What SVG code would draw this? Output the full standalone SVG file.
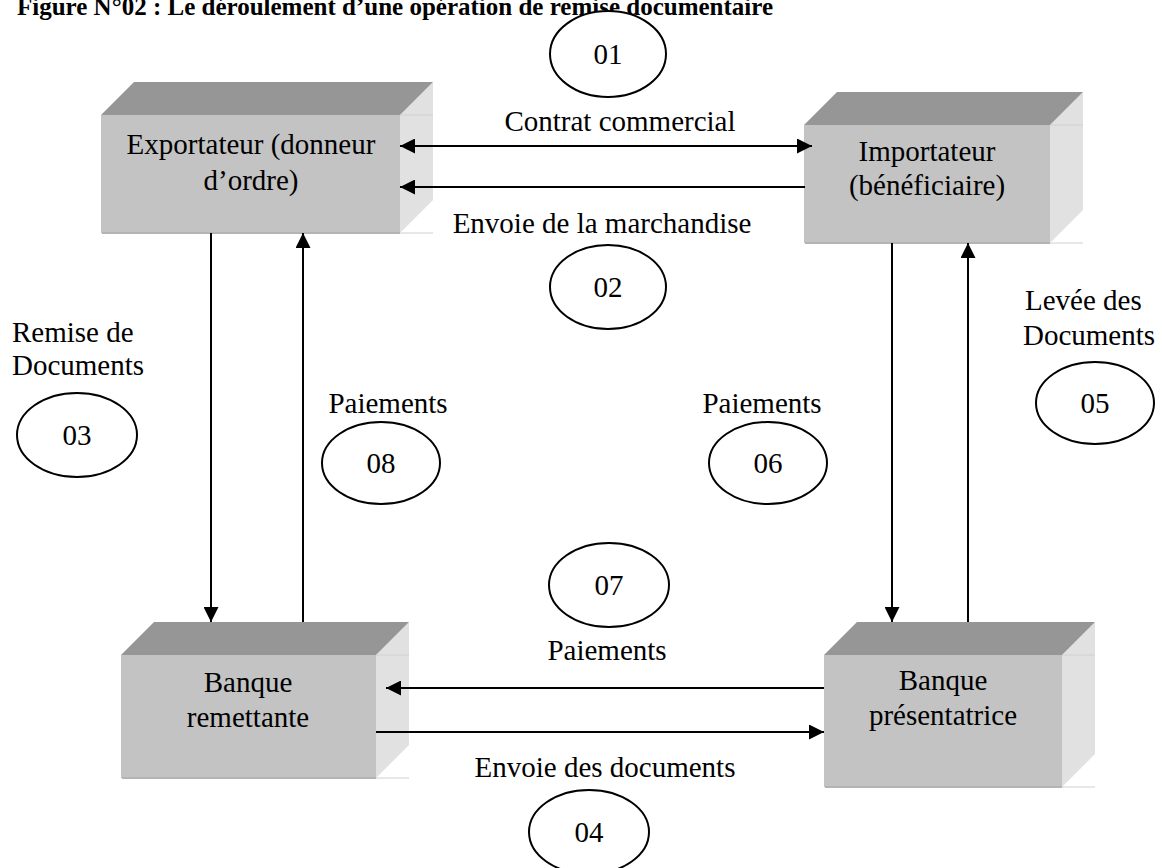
<svg xmlns="http://www.w3.org/2000/svg" width="1162" height="868" viewBox="0 0 1162 868">
<style>
.t{font-family:"Liberation Serif","Times New Roman",serif;font-size:29px;fill:#000}
.m{text-anchor:middle}
.title{font-family:"Liberation Serif","Times New Roman",serif;font-size:25px;font-weight:bold;fill:#000}
.front{fill:#c3c3c3}
.top{fill:#969696}
.side{fill:#e1e1e1}
.edge{stroke:#b4b4b4;stroke-width:2;fill:none}
.faint{stroke:#d0d0d0;stroke-width:1;fill:none}
.ell{fill:#fff;stroke:#000;stroke-width:2}
.arr{stroke:#000;stroke-width:2;fill:none}
</style>
<defs>
<marker id="ah" viewBox="0 0 15 15" refX="15" refY="7.5" markerWidth="15" markerHeight="15" markerUnits="userSpaceOnUse" orient="auto-start-reverse">
<path d="M0,0 L15,7.5 L0,15 z" fill="#000"/>
</marker>
</defs>
<rect width="1162" height="868" fill="#fff"/>
<text class="title" x="17" y="15">Figure N°02 : Le déroulement d’une opération de remise documentaire</text>

<g id="exportateur">
<polygon class="side" points="400,115 433,82 433,200 400,233"/>
<polygon class="top" points="101,115 134,82 433,82 400,115"/>
<rect class="front" x="101" y="115" width="299" height="118"/>
<line class="faint" x1="400" y1="115" x2="433" y2="115"/>
<line class="faint" x1="400" y1="233" x2="433" y2="233"/>
<line class="edge" x1="102" y1="233" x2="400" y2="233"/>
<text class="t m" x="251" y="154">Exportateur (donneur</text>
<text class="t m" x="251" y="190">d’ordre)</text>
</g>

<g id="importateur">
<polygon class="side" points="1050,125 1083,92 1083,210 1050,243"/>
<polygon class="top" points="804,125 837,92 1083,92 1050,125"/>
<rect class="front" x="804" y="125" width="246" height="118"/>
<line class="faint" x1="1050" y1="125" x2="1083" y2="125"/>
<line class="faint" x1="1050" y1="243" x2="1083" y2="243"/>
<line class="edge" x1="805" y1="243" x2="1050" y2="243"/>
<text class="t m" x="927" y="161">Importateur</text>
<text class="t m" x="927" y="195">(bénéficiaire)</text>
</g>

<g id="banque-remettante">
<polygon class="side" points="376,655 409,622 409,745 376,778"/>
<polygon class="top" points="121,655 154,622 409,622 376,655"/>
<rect class="front" x="121" y="655" width="255" height="123"/>
<line class="faint" x1="376" y1="655" x2="409" y2="655"/>
<line class="faint" x1="376" y1="778" x2="409" y2="778"/>
<line class="edge" x1="122" y1="778" x2="376" y2="778"/>
<text class="t m" x="248" y="692">Banque</text>
<text class="t m" x="248" y="727">remettante</text>
</g>

<g id="banque-presentatrice">
<polygon class="side" points="1062,655 1095,622 1095,754 1062,787"/>
<polygon class="top" points="824,655 857,622 1095,622 1062,655"/>
<rect class="front" x="824" y="655" width="238" height="132"/>
<line class="faint" x1="1062" y1="655" x2="1095" y2="655"/>
<line class="faint" x1="1062" y1="787" x2="1095" y2="787"/>
<line class="edge" x1="825" y1="787" x2="1062" y2="787"/>
<text class="t m" x="943" y="690">Banque</text>
<text class="t m" x="943" y="725">présentatrice</text>
</g>

<g id="connectors">
<line class="arr" x1="400" y1="146" x2="812" y2="146" marker-start="url(#ah)" marker-end="url(#ah)"/>
<line class="arr" x1="805" y1="187" x2="400" y2="187" marker-end="url(#ah)"/>
<line class="arr" x1="211" y1="233" x2="211" y2="622" marker-end="url(#ah)"/>
<line class="arr" x1="303" y1="622" x2="303" y2="233" marker-end="url(#ah)"/>
<line class="arr" x1="892" y1="243" x2="892" y2="622" marker-end="url(#ah)"/>
<line class="arr" x1="968" y1="622" x2="968" y2="243" marker-end="url(#ah)"/>
<line class="arr" x1="824" y1="688" x2="386" y2="688" marker-end="url(#ah)"/>
<line class="arr" x1="376" y1="732" x2="824" y2="732" marker-end="url(#ah)"/>
</g>

<g id="labels">
<text class="t m" x="620" y="131">Contrat commercial</text>
<text class="t m" x="602" y="233">Envoie de la marchandise</text>
<text class="t m" x="607" y="660">Paiements</text>
<text class="t m" x="605" y="777">Envoie des documents</text>
<text class="t" x="12" y="342">Remise de</text>
<text class="t" x="12" y="375">Documents</text>
<text class="t m" x="388" y="413">Paiements</text>
<text class="t m" x="762" y="413">Paiements</text>
<text class="t" x="1025" y="310">Levée des</text>
<text class="t" x="1023" y="345">Documents</text>
</g>

<g id="step-01"><ellipse class="ell" cx="608" cy="54" rx="58" ry="43"/><text class="t m" x="608" y="64">01</text></g>
<g id="step-02"><ellipse class="ell" cx="608" cy="287" rx="58" ry="42"/><text class="t m" x="608" y="297">02</text></g>
<g id="step-03"><ellipse class="ell" cx="77" cy="435" rx="60" ry="42"/><text class="t m" x="77" y="445">03</text></g>
<g id="step-05"><ellipse class="ell" cx="1095" cy="403" rx="59" ry="41"/><text class="t m" x="1095" y="413">05</text></g>
<g id="step-08"><ellipse class="ell" cx="381" cy="463" rx="59" ry="41"/><text class="t m" x="381" y="473">08</text></g>
<g id="step-06"><ellipse class="ell" cx="768" cy="463" rx="59" ry="41"/><text class="t m" x="768" y="473">06</text></g>
<g id="step-07"><ellipse class="ell" cx="609" cy="585" rx="60" ry="42"/><text class="t m" x="609" y="595">07</text></g>
<g id="step-04"><ellipse class="ell" cx="589" cy="832" rx="60" ry="42"/><text class="t m" x="589" y="842">04</text></g>
</svg>
